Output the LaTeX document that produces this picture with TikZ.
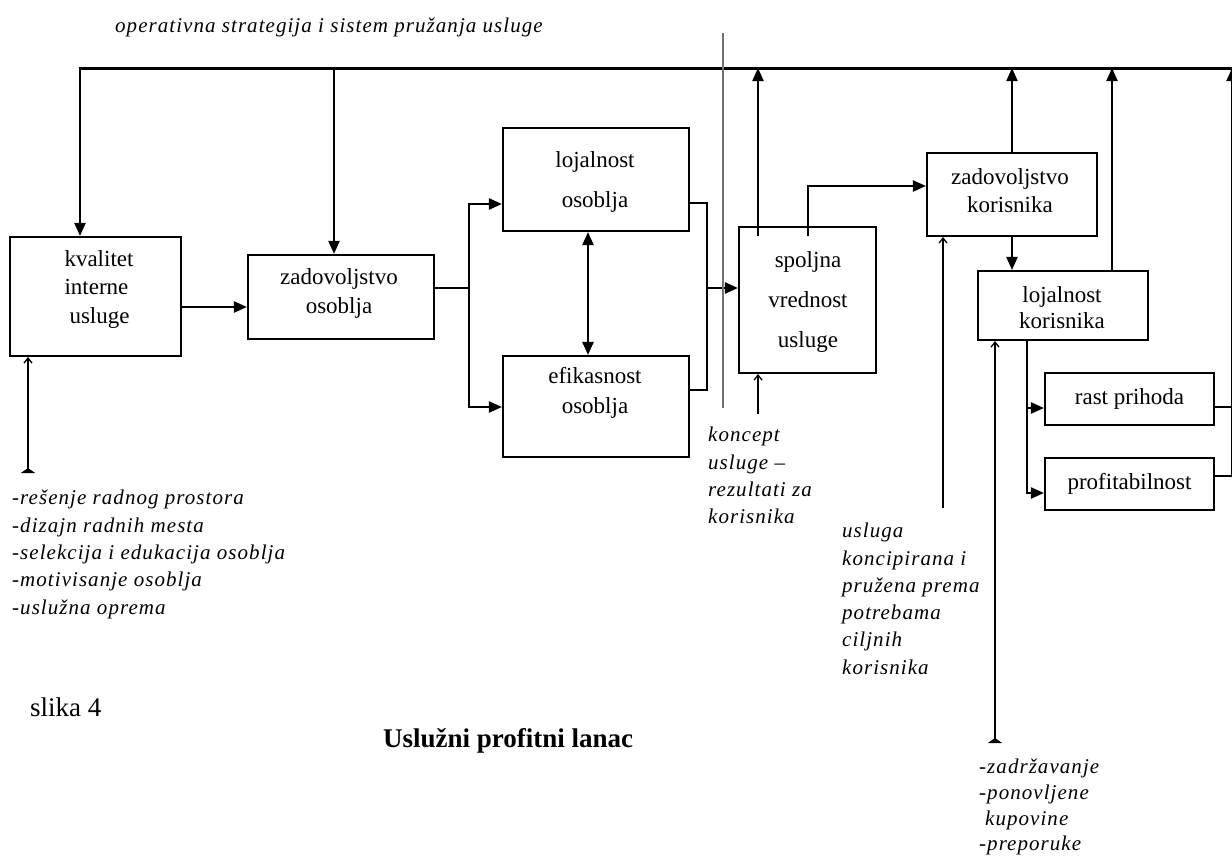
\documentclass[tikz,border=0pt]{standalone}
\usepackage{fontspec}
\setmainfont{Liberation Serif}
\newfontfamily\itf[LetterSpace=5.0]{Liberation Serif}
\usetikzlibrary{arrows.meta,calc}
\tikzset{
  box/.style={draw, line width=2.1pt, inner sep=0pt},
  lbl/.style={font=\fontsize{23}{29}\selectfont, align=center, inner sep=0pt},
  conn/.style={line width=2.2pt},
  topline/.style={line width=3pt},
  arr/.style={conn, -{Triangle[length=13pt,width=11pt]}},
  arrtwo/.style={conn, {Triangle[length=13pt,width=11pt]}-{Triangle[length=13pt,width=11pt]}},
  thinln/.style={line width=1.3pt},
  tarr/.style={thinln, -{Straight Barb[length=5pt,width=8pt]}},
  teearr/.style={thinln, {Triangle[reversed,length=5pt,width=14pt]}-{Straight Barb[length=5pt,width=8pt]}},
  note/.style={font=\itf\itshape\fontsize{21}{27.3}\selectfont, align=left, anchor=north west, inner sep=0pt},
}
\begin{document}
\begin{tikzpicture}[x=1pt,y=-1pt]
\useasboundingbox (0,0) rectangle (1232,862);
% boxes
\node[box, minimum width=171, minimum height=119] (kv) at (95.5,296.5) {};
\node[box, minimum width=186, minimum height=84] (zo) at (341,297) {};
\node[box, minimum width=186, minimum height=103] (lo) at (596,179.5) {};
\node[box, minimum width=186, minimum height=101] (ef) at (596,406.5) {};
\node[box, minimum width=137, minimum height=146] (sp) at (807.5,300) {};
\node[box, minimum width=170, minimum height=83] (zk) at (1012,194.5) {};
\node[box, minimum width=170, minimum height=69] (lk) at (1063,305.5) {};
\node[box, lbl, minimum width=169, minimum height=52] (rp) at (1129.5,399) {rast prihoda};
\node[box, lbl, minimum width=169, minimum height=52] (pr) at (1129.5,484) {profitabilnost};
% box texts
\node[lbl, align=left, font=\fontsize{23}{28.5}\selectfont] (kvt) at (99,289) {kvalitet\\interne\\\hspace*{5pt}usluge};
\node[lbl, font=\fontsize{23}{29}\selectfont] (zot) at (339,293.5) {zadovoljstvo\\osoblja};
\node[lbl, font=\fontsize{23}{40}\selectfont] (lot) at (595,182) {lojalnost\\osoblja};
\node[lbl, font=\fontsize{23}{30}\selectfont] (eft) at (595,393) {efikasnost\\osoblja};
\node[lbl, font=\fontsize{23}{40}\selectfont] (spt) at (808,302) {spoljna\\vrednost\\usluge};
\node[lbl, font=\fontsize{23}{28}\selectfont] (zkt) at (1010,191) {zadovoljstvo\\korisnika};
\node[lbl, font=\fontsize{23}{26}\selectfont] (lkt) at (1062,307.5) {lojalnost\\korisnika};
% top line
\coordinate (TL) at (80,68);
\coordinate (TR) at (1232,68);
\draw[topline] ([xshift=-1.5pt]TL) -- (TR);
\draw[arr] (TL) -- (TL |- kv.north);
\coordinate (T2) at (334,68);
\draw[arr] (T2) -- (T2 |- zo.north);
% kv -> zo
\coordinate (a1) at ($(kv.east)+(0,10.5)$);
\draw[arr] (a1) -- (a1 -| zo.west);
% zo -> lo, ef
\coordinate (j1) at (469,288);
\draw[conn] (j1 -| zo.east) -- (j1);
\draw[arr] (j1) |- ($(lo.west)+(0,24.5)$);
\draw[arr] (j1) |- ($(ef.west)+(0,0.5)$);
\draw[arrtwo] ($(lo.south)+(-8,0)$) -- ($(ef.north)+(-8,0)$);
% lo, ef -> sp
\coordinate (j2) at (707,288);
\draw[conn] ($(lo.east)+(0,23.5)$) -| (j2);
\draw[conn] ($(ef.east)+(0,-16.5)$) -| (j2);
\draw[arr] (j2) -- (j2 -| sp.west);
% gray separator
\coordinate (g1) at (723,33);
\coordinate (g2) at (723,408);
\draw[line width=1.1pt, black!55] (g1) -- (g2);
% sp -> top, sp -> zk
\coordinate (s1) at ($(sp.north)+(-49.5,10)$);
\draw[arr] (s1) -- (s1 |- TL);
\coordinate (s2) at ($(sp.north)+(0.5,10)$);
\draw[arr] (s2) |- ($(zk.west)+(0,-8.5)$);
% zk
\draw[arr] (zk.north) -- (zk.north |- TL);
\draw[arr] (zk.south) -- (zk.south |- lk.north);
% lk
\coordinate (l1) at ($(lk.north)+(49,0)$);
\draw[arr] (l1) -- (l1 |- TL);
\coordinate (l2) at ($(lk.south)+(-36,0)$);
\draw[arr] (l2) |- ($(rp.west)+(0,9)$);
\draw[arr] (l2) |- ($(pr.west)+(0,9)$);
% right feedback
\coordinate (r1) at ($(pr.east)+(17,-8)$);
\coordinate (r0) at ($(rp.east)+(0,8)$);
\draw[conn] (r0) -- (r0 -| r1);
\draw[conn] ($(pr.east)+(0,-8)$) -- (r1);
\draw[arr] (r1) -- (r1 |- TL);
% thin arrows
\coordinate (k1) at (28,473);
\draw[teearr] (k1) -- (k1 |- kv.south);
\coordinate (c1) at (758,414);
\draw[tarr] (c1) -- (c1 |- sp.south);
\coordinate (u1) at (943,508);
\draw[tarr] (u1) -- (u1 |- zk.south);
\coordinate (z1) at (995,743);
\draw[teearr] (z1) -- (z1 |- lk.south);
% notes
\node[note, anchor=west] (ttl) at (115,27) {operativna strategija i sistem pružanja usluge};
\node[note] (n1) at (12,490) {-rešenje radnog prostora\\-dizajn radnih mesta\\-selekcija i edukacija osoblja\\-motivisanje osoblja\\-uslužna oprema};
\node[note] (n2) at (708,427) {koncept\\usluge –\\rezultati za\\korisnika};
\node[note] (n3) at (842,523) {usluga\\koncipirana i\\pružena prema\\potrebama\\ciljnih\\korisnika};
\node[note, font=\itf\itshape\fontsize{21}{25.7}\selectfont] (n4) at (979,759) {-zadržavanje\\-ponovljene\\\hspace*{6pt}kupovine\\-preporuke};
\node[anchor=west, inner sep=0pt, font=\fontsize{27}{30}\selectfont] (sl) at (30,707) {slika 4};
\node[anchor=west, inner sep=0pt, font=\bfseries\fontsize{27}{30}\selectfont] (ul) at (383,741) {Uslužni profitni lanac};
\end{tikzpicture}
\end{document}
